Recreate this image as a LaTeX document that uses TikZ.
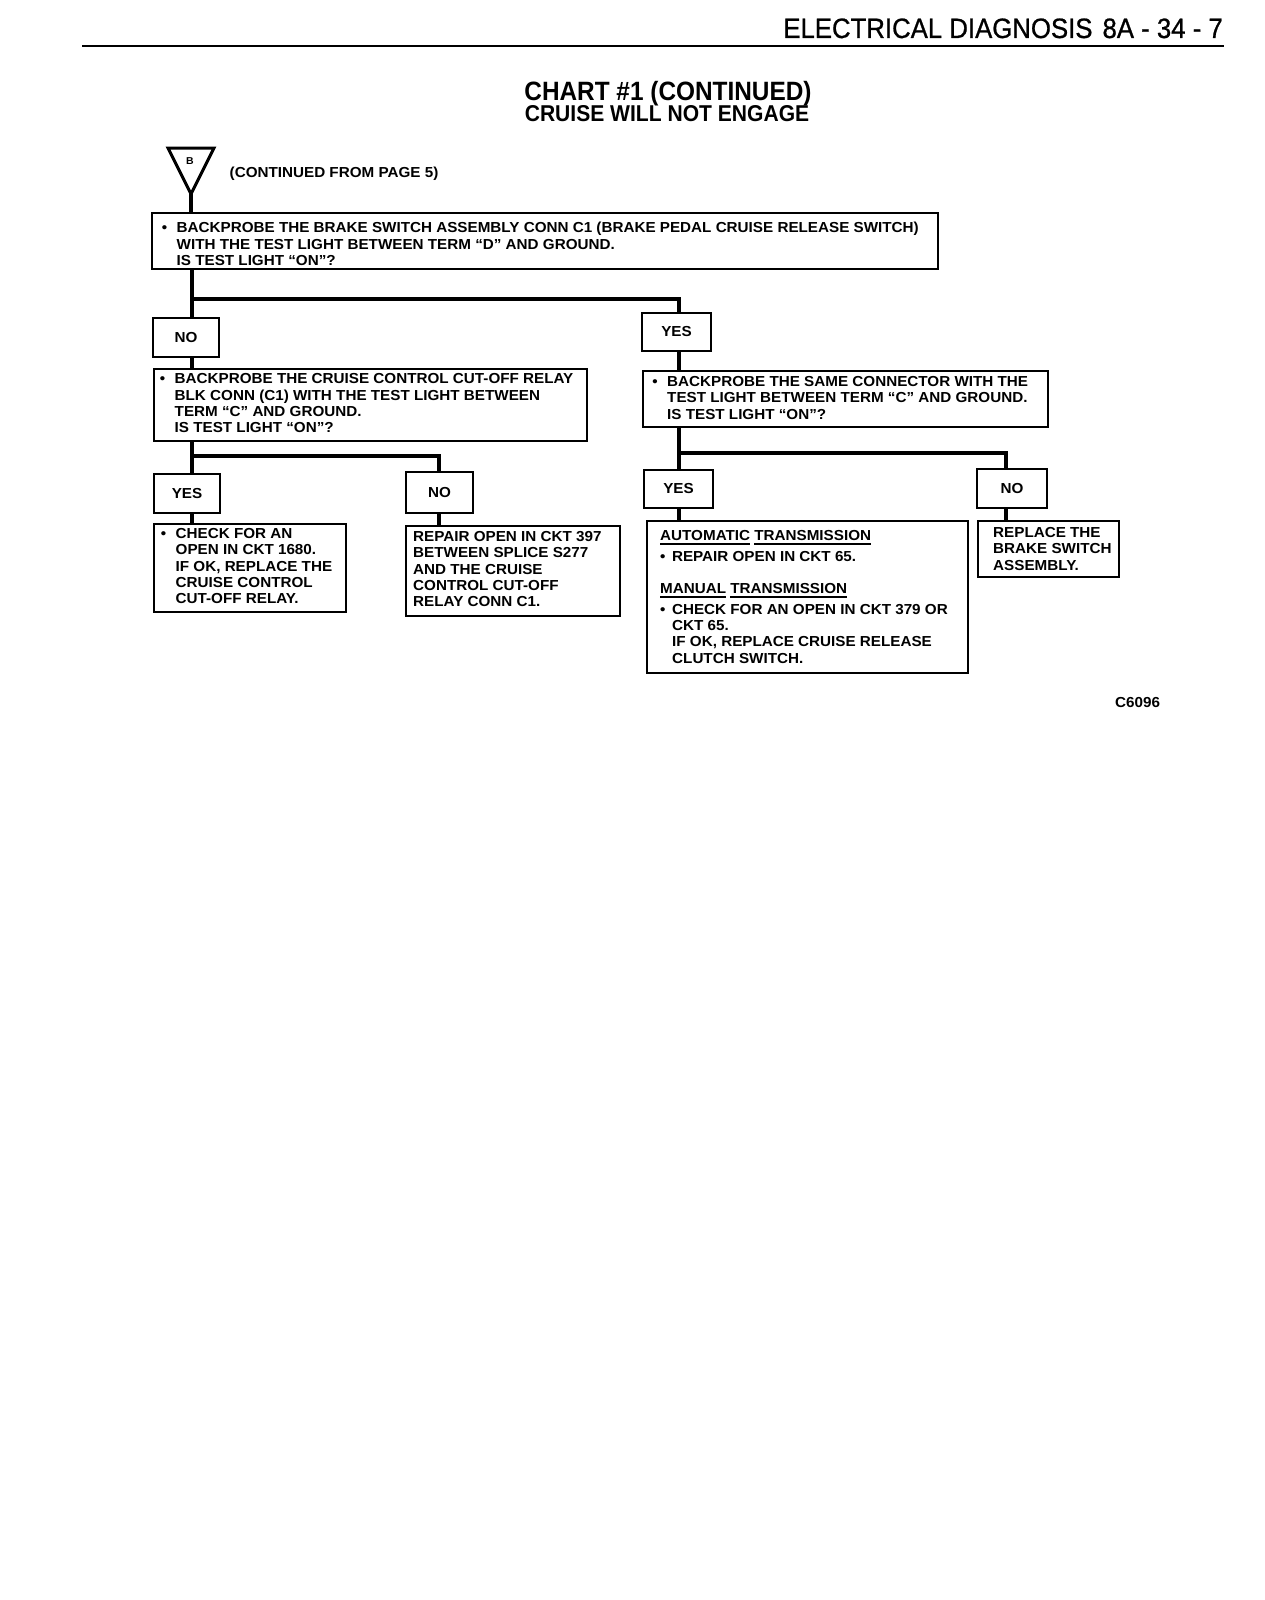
\documentclass[tikz,border=0pt]{standalone}
\usepackage{fontspec}
\setmainfont{Liberation Sans}
\newfontfamily\bxfam[FakeStretch=1.05]{Liberation Sans}
\newfontfamily\hdfam[FakeStretch=0.92]{Liberation Sans}
\newfontfamily\hdrfam[FakeStretch=0.92,FakeBold=0.8]{Liberation Sans}
\newcommand\bxf{\bxfam\bfseries\fontsize{14.5}{16.3}\selectfont}
\newcommand\bul{\llap{\textbullet\hspace{9.5pt}}}
\newcommand\ulbox[1]{\setbox0\hbox{#1}\rlap{\rule[-4pt]{\wd0}{1.8pt}}\box0\relax}
\tikzset{
  box/.style={draw, line width=2pt, inner sep=0pt, anchor=north west},
  lbl/.style={draw, line width=2pt, inner sep=0pt, font=\bxf},
  txt/.style={inner sep=0pt, anchor=north west, align=left, font=\bxf},
  conn/.style={line width=4pt, line join=miter},
}
\begin{document}
\begin{tikzpicture}[x=1pt,y=-1pt]
\useasboundingbox (0,0) rectangle (1264,1600);
\fill[white] (0,0) rectangle (1264,1600);

% header
\node[anchor=base east, inner sep=0pt, font=\hdrfam\fontsize{28}{30}\selectfont] (hdr) at (1223,38) {ELECTRICAL DIAGNOSIS\hspace{10pt}8A - 34 - 7};
\coordinate (rl) at (82,46); \coordinate (rr) at (1224,46);
\draw[line width=2.2pt] (rl) -- (rr);

\node[anchor=base, inner sep=0pt, font=\hdfam\bfseries\fontsize{26.5}{28}\selectfont] (title1) at (668,101) {CHART \#1 (CONTINUED)};
\node[anchor=base, inner sep=0pt, font=\hdfam\bfseries\fontsize{22.9}{24}\selectfont] (title2) at (667,122) {CRUISE WILL NOT ENGAGE};

% off-page connector
\coordinate (tA) at (191,194);
\draw[line width=3pt, line join=miter] (168,148) -- (214,148) -- (tA) -- cycle;
\node[inner sep=0pt, font=\bxfam\bfseries\fontsize{10}{12}\selectfont] (tB) at (190,161) {B};
\node[anchor=base west, inner sep=0pt, font=\bxf] (cont) at (229.5,177) {(CONTINUED FROM PAGE 5)};

% boxes
\node[box, minimum width=786, minimum height=56] (b1) at (151,212) {};
\node[txt] (b1t) at (176.5,212) {\rule{0pt}{20.5pt}\bul BACKPROBE THE BRAKE SWITCH ASSEMBLY CONN C1 (BRAKE PEDAL CRUISE RELEASE SWITCH)\\WITH THE TEST LIGHT BETWEEN TERM “D” AND GROUND.\\IS TEST LIGHT “ON”?};

\node[lbl, minimum width=66, minimum height=39] (no1) at (186,337.5) {NO};
\node[lbl, minimum width=69, minimum height=38] (yes1) at (676.5,332) {YES};

\node[box, minimum width=433, minimum height=72] (b2) at (153,368) {};
\node[txt] (b2t) at (174.5,368) {\rule{0pt}{15.5pt}\bul BACKPROBE THE CRUISE CONTROL CUT-OFF RELAY\\BLK CONN (C1) WITH THE TEST LIGHT BETWEEN\\TERM “C” AND GROUND.\\IS TEST LIGHT “ON”?};

\node[box, minimum width=405, minimum height=56] (b3) at (642,370) {};
\node[txt] (b3t) at (667,370) {\rule{0pt}{16.4pt}\bul BACKPROBE THE SAME CONNECTOR WITH THE\\TEST LIGHT BETWEEN TERM “C” AND GROUND.\\IS TEST LIGHT “ON”?};

\node[lbl, minimum width=66, minimum height=39] (yes2) at (187,493.5) {YES};
\node[lbl, minimum width=67, minimum height=41] (no2) at (439.5,492.5) {NO};
\node[lbl, minimum width=69, minimum height=38] (yes3) at (678.5,489) {YES};
\node[lbl, minimum width=70, minimum height=39] (no3) at (1012,488.5) {NO};

\node[box, minimum width=192, minimum height=88] (b4) at (153,523) {};
\node[txt] (b4t) at (175.5,523) {\rule{0pt}{15.3pt}\bul CHECK FOR AN\\OPEN IN CKT 1680.\\IF OK, REPLACE THE\\CRUISE CONTROL\\CUT-OFF RELAY.};

\node[box, minimum width=214, minimum height=90] (b5) at (405,525) {};
\node[txt] (b5t) at (413,525) {\rule{0pt}{16.3pt}REPAIR OPEN IN CKT 397\\BETWEEN SPLICE S277\\AND THE CRUISE\\CONTROL CUT-OFF\\RELAY CONN C1.};

\node[box, minimum width=321, minimum height=152] (b6) at (646,520) {};
\node[txt] (b6t) at (660,520) {\rule{0pt}{20.4pt}\ulbox{AUTOMATIC} \ulbox{TRANSMISSION}\\[4.1pt]\textbullet\hspace{6.5pt}REPAIR OPEN IN CKT 65.\\[16.4pt]\ulbox{MANUAL} \ulbox{TRANSMISSION}\\[4.1pt]\textbullet\hspace{6.5pt}CHECK FOR AN OPEN IN CKT 379 OR\\\hspace*{12pt}CKT 65.\\\hspace*{12pt}IF OK, REPLACE CRUISE RELEASE\\\hspace*{12pt}CLUTCH SWITCH.};

\node[box, minimum width=141, minimum height=56] (b7) at (977,520) {};
\node[txt] (b7t) at (993,520) {\rule{0pt}{17.4pt}REPLACE THE\\BRAKE SWITCH\\ASSEMBLY.};

\node[anchor=base west, inner sep=0pt, font=\bxf] (code) at (1115,707) {C6096};

% connectors
\draw[conn] (tA) -- (b1.north -| tA);
\coordinate (j1) at (191.5,299);
\coordinate (j1r) at (679,299);
\draw[conn] (b1.south -| j1) -- (no1.north -| j1);
\draw[conn] (j1) -- (j1r) -- (yes1.north -| j1r);
\draw[conn] (no1.south -| j1) -- (b2.north -| j1);
\draw[conn] (yes1.south -| j1r) -- (b3.north -| j1r);

\coordinate (j2) at (191.5,456);
\coordinate (j2r) at (439,456);
\draw[conn] (b2.south -| j2) -- (yes2.north -| j2);
\draw[conn] (j2) -- (j2r) -- (no2.north -| j2r);
\draw[conn] (yes2.south -| j2) -- (b4.north -| j2);
\draw[conn] (no2.south -| j2r) -- (b5.north -| j2r);

\coordinate (j3) at (679,453);
\coordinate (j3r) at (1006,453);
\draw[conn] (b3.south -| j3) -- (yes3.north -| j3);
\draw[conn] (j3) -- (j3r) -- (no3.north -| j3r);
\draw[conn] (yes3.south -| j3) -- (b6.north -| j3);
\draw[conn] (no3.south -| j3r) -- (b7.north -| j3r);
\end{tikzpicture}
\end{document}
